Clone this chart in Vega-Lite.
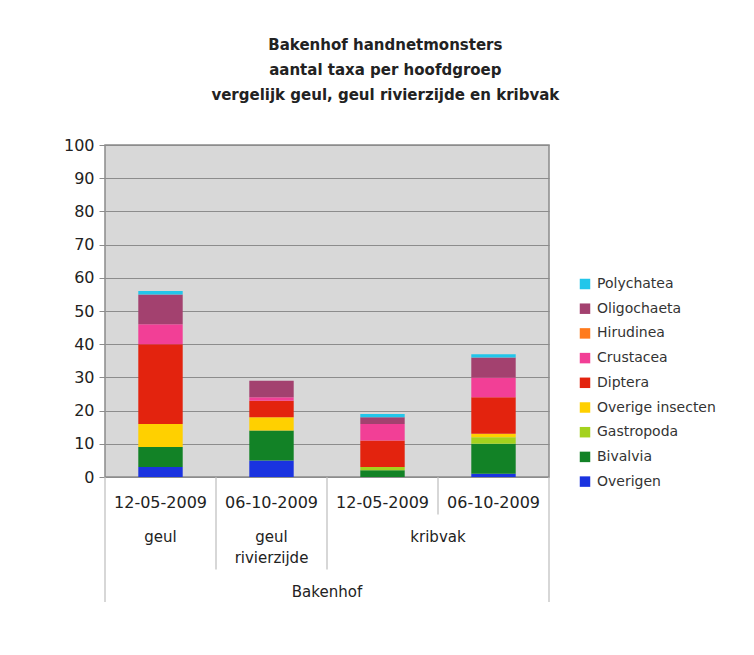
{
  "$schema": "https://vega.github.io/schema/vega-lite/v6.json",
  "padding": {"left": 62, "top": 38, "right": 5, "bottom": 5},
  "background": "#ffffff",
  "bounds": "flush",
  "title": {
    "text": ["Bakenhof handnetmonsters", "aantal taxa per hoofdgroep", "vergelijk geul, geul rivierzijde en kribvak"],
    "font": "DejaVu Sans",
    "fontSize": 15,
    "fontWeight": "bold",
    "lineHeight": 25,
    "color": "#222222",
    "anchor": "middle",
    "dx": -4,
    "offset": 33
  },
  "datasets": {
    "taxa": [
      {"sample": "geul 12-05-2009", "taxon": "Overigen", "n": 3},
      {"sample": "geul 12-05-2009", "taxon": "Bivalvia", "n": 6},
      {"sample": "geul 12-05-2009", "taxon": "Overige insecten", "n": 7},
      {"sample": "geul 12-05-2009", "taxon": "Diptera", "n": 24},
      {"sample": "geul 12-05-2009", "taxon": "Crustacea", "n": 6},
      {"sample": "geul 12-05-2009", "taxon": "Oligochaeta", "n": 9},
      {"sample": "geul 12-05-2009", "taxon": "Polychatea", "n": 1},
      {"sample": "geul rivierzijde 06-10-2009", "taxon": "Overigen", "n": 5},
      {"sample": "geul rivierzijde 06-10-2009", "taxon": "Bivalvia", "n": 9},
      {"sample": "geul rivierzijde 06-10-2009", "taxon": "Overige insecten", "n": 4},
      {"sample": "geul rivierzijde 06-10-2009", "taxon": "Diptera", "n": 5},
      {"sample": "geul rivierzijde 06-10-2009", "taxon": "Crustacea", "n": 1},
      {"sample": "geul rivierzijde 06-10-2009", "taxon": "Oligochaeta", "n": 5},
      {"sample": "kribvak 12-05-2009", "taxon": "Bivalvia", "n": 2},
      {"sample": "kribvak 12-05-2009", "taxon": "Gastropoda", "n": 1},
      {"sample": "kribvak 12-05-2009", "taxon": "Diptera", "n": 8},
      {"sample": "kribvak 12-05-2009", "taxon": "Crustacea", "n": 5},
      {"sample": "kribvak 12-05-2009", "taxon": "Oligochaeta", "n": 2},
      {"sample": "kribvak 12-05-2009", "taxon": "Polychatea", "n": 1},
      {"sample": "kribvak 06-10-2009", "taxon": "Overigen", "n": 1},
      {"sample": "kribvak 06-10-2009", "taxon": "Bivalvia", "n": 9},
      {"sample": "kribvak 06-10-2009", "taxon": "Gastropoda", "n": 2},
      {"sample": "kribvak 06-10-2009", "taxon": "Overige insecten", "n": 1},
      {"sample": "kribvak 06-10-2009", "taxon": "Diptera", "n": 11},
      {"sample": "kribvak 06-10-2009", "taxon": "Crustacea", "n": 6},
      {"sample": "kribvak 06-10-2009", "taxon": "Oligochaeta", "n": 6},
      {"sample": "kribvak 06-10-2009", "taxon": "Polychatea", "n": 1}
    ],
    "dates": [
      {"sample": "geul 12-05-2009", "label": "12-05-2009", "row": 0.7},
      {"sample": "geul rivierzijde 06-10-2009", "label": "06-10-2009", "row": 0.7},
      {"sample": "kribvak 12-05-2009", "label": "12-05-2009", "row": 0.7},
      {"sample": "kribvak 06-10-2009", "label": "06-10-2009", "row": 0.7}
    ],
    "groups": [
      {"sample": "geul 12-05-2009", "label": "geul", "row": 2.1},
      {"sample": "geul rivierzijde 06-10-2009", "label": "geul\nrivierzijde", "row": 2.1}
    ],
    "spans": [
      {"sample": "kribvak 06-10-2009", "label": "kribvak", "row": 2.1},
      {"sample": "kribvak 12-05-2009", "label": "Bakenhof", "row": 4.3}
    ],
    "leftEdges": [
      {"sample": "geul 12-05-2009", "from": 0, "to": 5},
      {"sample": "geul rivierzijde 06-10-2009", "from": 0, "to": 3.7},
      {"sample": "kribvak 12-05-2009", "from": 0, "to": 3.7},
      {"sample": "kribvak 06-10-2009", "from": 0, "to": 1.5}
    ],
    "rightEdges": [
      {"sample": "kribvak 06-10-2009", "from": 0, "to": 5}
    ]
  },
  "spacing": 0,
  "vconcat": [
    {
      "width": 444,
      "height": 332,
      "view": {"fill": "#d8d8d8", "stroke": "#8a8a8a", "strokeWidth": 1.5},
      "data": {"name": "taxa"},
      "transform": [
        {"calculate": "indexof(['Overigen','Bivalvia','Gastropoda','Overige insecten','Diptera','Crustacea','Hirudinea','Oligochaeta','Polychatea'], datum.taxon)", "as": "stackOrder"}
      ],
      "mark": {"type": "bar", "width": {"band": 0.4}},
      "encoding": {
        "x": {
          "field": "sample", "type": "nominal",
          "sort": ["geul 12-05-2009", "geul rivierzijde 06-10-2009", "kribvak 12-05-2009", "kribvak 06-10-2009"],
          "scale": {"paddingInner": 0, "paddingOuter": 0},
          "axis": null
        },
        "y": {
          "field": "n", "type": "quantitative", "stack": "zero",
          "scale": {"domain": [0, 100], "nice": false},
          "axis": {
            "title": null,
            "values": [0, 10, 20, 30, 40, 50, 60, 70, 80, 90, 100],
            "grid": true, "gridColor": "#8c8c8c", "gridWidth": 1.2,
            "domain": false,
            "tickColor": "#8c8c8c", "tickSize": 6,
            "labelFont": "DejaVu Sans", "labelFontSize": 16, "labelColor": "#222222",
            "labelPadding": 5
          }
        },
        "color": {
          "field": "taxon", "type": "nominal",
          "scale": {
            "domain": ["Polychatea", "Oligochaeta", "Hirudinea", "Crustacea", "Diptera", "Overige insecten", "Gastropoda", "Bivalvia", "Overigen"],
            "range": ["#22c6ea", "#a3416f", "#ff7a1c", "#f23f96", "#e3230e", "#ffd000", "#a4d21e", "#128226", "#1a33e0"]
          },
          "legend": {
            "title": null,
            "orient": "none",
            "legendX": 473,
            "legendY": 132,
            "symbolType": "square",
            "symbolSize": 110,
            "symbolStrokeWidth": 0,
            "labelFont": "DejaVu Sans",
            "labelFontSize": 14,
            "labelColor": "#333333",
            "rowPadding": 10.7,
            "labelOffset": 5
          }
        },
        "order": {"field": "stackOrder", "type": "quantitative", "sort": "ascending"}
      }
    },
    {
      "width": 444,
      "height": 125,
      "view": {"fill": null, "stroke": null},
      "encoding": {
        "x": {
          "field": "sample", "type": "nominal",
          "sort": ["geul 12-05-2009", "geul rivierzijde 06-10-2009", "kribvak 12-05-2009", "kribvak 06-10-2009"],
          "scale": {"paddingInner": 0, "paddingOuter": 0},
          "axis": null
        }
      },
      "layer": [
        {
          "data": {"name": "leftEdges"},
          "mark": {"type": "rule", "color": "#bdbdbd", "strokeWidth": 1.2},
          "encoding": {
            "x": {"field": "sample", "type": "nominal", "bandPosition": 0,
                  "sort": ["geul 12-05-2009", "geul rivierzijde 06-10-2009", "kribvak 12-05-2009", "kribvak 06-10-2009"]},
            "y": {"field": "from", "type": "quantitative", "scale": {"domain": [0, 5], "reverse": true, "nice": false}, "axis": null},
            "y2": {"field": "to"}
          }
        },
        {
          "data": {"name": "rightEdges"},
          "mark": {"type": "rule", "color": "#bdbdbd", "strokeWidth": 1.2},
          "encoding": {
            "x": {"field": "sample", "type": "nominal", "bandPosition": 1,
                  "sort": ["geul 12-05-2009", "geul rivierzijde 06-10-2009", "kribvak 12-05-2009", "kribvak 06-10-2009"]},
            "y": {"field": "from", "type": "quantitative", "axis": null},
            "y2": {"field": "to"}
          }
        },
        {
          "data": {"name": "dates"},
          "mark": {"type": "text", "font": "DejaVu Sans", "fontSize": 16, "color": "#222222", "baseline": "top", "align": "center"},
          "encoding": {
            "x": {"field": "sample", "type": "nominal", "bandPosition": 0.5,
                  "sort": ["geul 12-05-2009", "geul rivierzijde 06-10-2009", "kribvak 12-05-2009", "kribvak 06-10-2009"]},
            "y": {"field": "row", "type": "quantitative", "axis": null},
            "text": {"field": "label"}
          }
        },
        {
          "data": {"name": "groups"},
          "mark": {"type": "text", "font": "DejaVu Sans", "fontSize": 15, "color": "#222222", "baseline": "top", "align": "center", "lineBreak": "\n", "lineHeight": 21},
          "encoding": {
            "x": {"field": "sample", "type": "nominal", "bandPosition": 0.5,
                  "sort": ["geul 12-05-2009", "geul rivierzijde 06-10-2009", "kribvak 12-05-2009", "kribvak 06-10-2009"]},
            "y": {"field": "row", "type": "quantitative", "axis": null},
            "text": {"field": "label"}
          }
        },
        {
          "data": {"name": "spans"},
          "mark": {"type": "text", "font": "DejaVu Sans", "fontSize": 15, "color": "#222222", "baseline": "top", "align": "center"},
          "encoding": {
            "x": {"field": "sample", "type": "nominal", "bandPosition": 0,
                  "sort": ["geul 12-05-2009", "geul rivierzijde 06-10-2009", "kribvak 12-05-2009", "kribvak 06-10-2009"]},
            "y": {"field": "row", "type": "quantitative", "axis": null},
            "text": {"field": "label"}
          }
        }
      ]
    }
  ]
}
